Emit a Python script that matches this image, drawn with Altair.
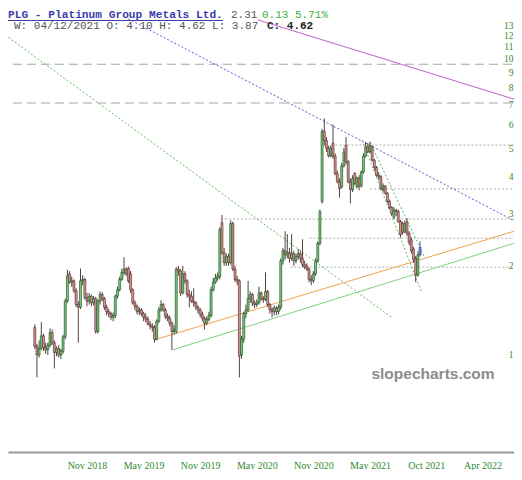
import altair as alt
import pandas as pd

# ---------------- weekly candles (PLG) ----------------
first_week = "2018-05-21"
opens = [1.24, 1.07, 1.00, 1.05, 1.16, 1.06, 1.04, 1.08, 1.19, 1.10,
         1.02, 1.05, 1.00, 1.03, 1.15, 1.52, 1.88, 1.76, 1.78, 1.65,
         1.48, 1.45, 1.78, 1.80, 1.56, 1.52, 1.58, 1.50, 1.55, 1.20,
         1.52, 1.60, 1.55, 1.45, 1.40, 1.38, 1.34, 1.36, 1.58, 1.66,
         1.80, 1.90, 1.95, 1.96, 1.88, 1.66, 1.50, 1.46, 1.40, 1.42,
         1.38, 1.34, 1.32, 1.27, 1.25, 1.24, 1.13, 1.30, 1.42, 1.48,
         1.42, 1.35, 1.33, 1.28, 1.20, 1.20, 1.95, 1.92, 1.62, 1.88,
         1.78, 1.60, 1.58, 1.52, 1.50, 1.45, 1.42, 1.37, 1.33, 1.28,
         1.32, 1.36, 1.66, 1.76, 1.82, 1.84, 2.80, 2.22, 2.05, 2.15,
         2.05, 2.78, 1.95, 1.80, 1.78, 1.00, 1.13, 1.38, 1.42, 1.55,
         1.60, 1.50, 1.48, 1.50, 1.62, 1.55, 1.54, 1.64, 1.48, 1.42,
         1.40, 1.44, 1.40, 1.45, 2.08, 2.25, 2.18, 2.22, 2.12, 2.20,
         2.08, 2.15, 2.20, 2.12, 2.02, 2.00, 1.95, 1.80, 1.78, 1.88,
         2.08, 2.38, 3.30, 5.70, 5.30, 5.00, 4.70, 5.20, 4.70, 4.10,
         3.85, 3.70, 4.35, 5.10, 4.50, 3.85, 3.62, 4.10, 3.70, 3.95,
         3.72, 4.15, 4.70, 5.05, 4.85, 5.05, 4.55, 4.30, 4.05, 4.00,
         3.62, 3.72, 3.52, 3.30, 3.15, 2.92, 3.08, 3.05, 2.82, 2.78,
         2.60, 2.82, 2.58, 2.45, 2.28, 2.12, 1.86, 2.18]
highs = [1.27, 1.09, 1.12, 1.29, 1.18, 1.10, 1.10, 1.23, 1.22, 1.12,
         1.07, 1.08, 1.05, 1.17, 1.55, 1.94, 1.92, 1.84, 1.80, 1.68,
         1.52, 1.96, 1.86, 1.82, 1.62, 1.62, 1.60, 1.58, 1.57, 1.54,
         1.64, 1.63, 1.57, 1.48, 1.43, 1.40, 1.39, 1.60, 1.70, 1.84,
         1.96, 2.14, 1.98, 1.99, 1.92, 1.68, 1.53, 1.48, 1.45, 1.44,
         1.40, 1.38, 1.35, 1.30, 1.28, 1.26, 1.32, 1.45, 1.53, 1.50,
         1.44, 1.38, 1.36, 1.30, 1.26, 1.98, 2.00, 1.95, 2.00, 1.92,
         1.80, 1.66, 1.64, 1.68, 1.52, 1.47, 1.44, 1.40, 1.35, 1.35,
         1.40, 1.70, 1.82, 1.88, 1.90, 2.70, 2.97, 2.30, 2.20, 2.20,
         2.85, 2.82, 2.00, 1.85, 1.80, 1.16, 1.40, 1.48, 1.78, 1.64,
         1.62, 1.53, 1.54, 1.70, 1.64, 1.58, 1.90, 1.66, 1.50, 1.45,
         1.47, 1.46, 1.48, 2.12, 2.30, 2.62, 2.56, 2.30, 2.56, 2.25,
         2.20, 2.28, 2.25, 2.46, 2.08, 2.04, 1.98, 1.86, 1.92, 2.12,
         2.42, 3.10, 5.80, 6.30, 5.45, 5.10, 5.10, 6.00, 4.80, 4.20,
         3.95, 4.45, 5.00, 5.45, 4.55, 3.95, 4.05, 4.15, 4.00, 4.05,
         4.20, 4.80, 5.25, 5.20, 5.25, 5.10, 4.60, 4.35, 4.15, 4.05,
         3.80, 3.75, 3.55, 3.35, 3.18, 3.16, 3.12, 3.10, 2.86, 2.82,
         2.85, 2.90, 2.62, 2.50, 2.32, 2.16, 2.24, 2.42]
lows = [1.05, 0.84, 0.98, 1.04, 1.03, 1.01, 1.00, 1.06, 1.08, 0.90,
        0.99, 0.98, 0.97, 1.01, 1.13, 1.50, 1.74, 1.70, 1.62, 1.45,
        1.10, 1.43, 1.72, 1.54, 1.46, 1.48, 1.46, 1.47, 1.18, 1.18,
        1.48, 1.52, 1.42, 1.36, 1.34, 1.31, 1.30, 1.33, 1.55, 1.64,
        1.78, 1.86, 1.85, 1.75, 1.62, 1.48, 1.42, 1.37, 1.36, 1.35,
        1.30, 1.29, 1.26, 1.22, 1.20, 1.10, 1.12, 1.28, 1.40, 1.40,
        1.32, 1.30, 1.25, 1.04, 1.17, 1.18, 1.85, 1.58, 1.60, 1.74,
        1.56, 1.45, 1.50, 1.46, 1.42, 1.38, 1.34, 1.30, 1.22, 1.26,
        1.30, 1.34, 1.64, 1.74, 1.78, 1.80, 2.18, 2.00, 2.00, 2.00,
        2.02, 1.92, 1.76, 1.72, 0.84, 0.97, 1.10, 1.33, 1.40, 1.50,
        1.46, 1.44, 1.45, 1.48, 1.52, 1.50, 1.52, 1.45, 1.38, 1.34,
        1.36, 1.36, 1.37, 1.42, 2.02, 2.10, 2.12, 2.05, 2.08, 2.00,
        2.04, 2.10, 2.05, 1.98, 1.95, 1.92, 1.76, 1.72, 1.75, 1.85,
        2.05, 2.35, 3.25, 5.10, 4.85, 4.65, 4.65, 4.60, 4.05, 3.80,
        3.40, 3.65, 4.30, 4.40, 3.80, 3.25, 3.55, 3.75, 3.65, 3.60,
        3.68, 4.10, 4.65, 4.80, 4.80, 4.50, 4.20, 4.00, 3.90, 3.60,
        3.55, 3.48, 3.25, 3.10, 2.95, 2.88, 2.95, 2.80, 2.50, 2.55,
        2.58, 2.52, 2.35, 2.20, 2.05, 1.76, 1.84, 2.15]
closes = [1.07, 1.00, 1.05, 1.16, 1.06, 1.04, 1.08, 1.19, 1.10, 1.02,
          1.05, 1.00, 1.03, 1.15, 1.52, 1.85, 1.76, 1.78, 1.65, 1.48,
          1.45, 1.78, 1.80, 1.56, 1.52, 1.58, 1.50, 1.55, 1.20, 1.52,
          1.60, 1.55, 1.45, 1.40, 1.38, 1.34, 1.36, 1.58, 1.66, 1.80,
          1.90, 1.95, 1.88, 1.78, 1.66, 1.50, 1.46, 1.40, 1.42, 1.38,
          1.34, 1.32, 1.27, 1.25, 1.24, 1.13, 1.30, 1.42, 1.48, 1.42,
          1.35, 1.33, 1.28, 1.20, 1.22, 1.95, 1.92, 1.62, 1.88, 1.78,
          1.60, 1.58, 1.52, 1.50, 1.45, 1.42, 1.37, 1.33, 1.28, 1.32,
          1.36, 1.66, 1.76, 1.82, 1.85, 2.66, 2.22, 2.05, 2.15, 2.05,
          2.78, 1.95, 1.80, 1.78, 0.99, 1.13, 1.38, 1.42, 1.55, 1.60,
          1.50, 1.48, 1.50, 1.62, 1.55, 1.54, 1.64, 1.48, 1.42, 1.40,
          1.44, 1.40, 1.45, 2.08, 2.25, 2.18, 2.22, 2.12, 2.20, 2.08,
          2.15, 2.20, 2.12, 2.02, 1.98, 1.95, 1.80, 1.78, 1.88, 2.08,
          2.38, 3.05, 5.70, 5.30, 5.00, 4.70, 5.00, 4.70, 4.10, 3.85,
          3.65, 4.35, 4.85, 4.50, 3.85, 3.62, 3.95, 3.80, 3.98, 3.72,
          4.15, 4.70, 5.05, 4.85, 5.10, 4.55, 4.30, 4.05, 4.00, 3.65,
          3.72, 3.52, 3.30, 3.15, 3.00, 3.08, 3.05, 2.82, 2.55, 2.60,
          2.78, 2.58, 2.40, 2.25, 2.10, 1.86, 2.18, 2.31]

# ---------------- drawn trendlines ----------------
trend_ids = ["purple", "blue", "green_long", "green_steep1", "green_steep2", "orange", "green_solid"]
trend_start_date = ["2020-05-08", "2019-03-06", "2018-02-15", "2021-04-07", "2021-05-03", "2019-06-09", "2019-08-07"]
trend_start_price = [13.55, 13.87, 12.05, 5.32, 5.24, 1.124, 1.04]
trend_end_date = ["2022-08-18", "2022-08-18", "2021-07-14", "2021-10-16", "2021-10-26", "2022-08-18", "2022-08-18"]
trend_end_price = [7.27, 2.81, 1.334, 1.63, 2.13, 2.634, 2.40]
trend_colors = {"purple": "#c060d0", "blue": "#5a5ad8", "green_long": "#5cbf5c", "green_steep1": "#5cbf5c",
                "green_steep2": "#5cbf5c", "orange": "#f2a050", "green_solid": "#80d080"}
trend_dashed = {"purple": False, "blue": True, "green_long": True, "green_steep1": True,
                "green_steep2": True, "orange": False, "green_solid": False}

# ---------------- horizontal levels ----------------
level_prices = [9.6, 7.10, 5.12, 3.64, 2.88, 2.48, 1.98]
level_start = ["2018-03-12", "2018-03-12", "2020-12-30", "2021-05-03", "2020-01-09", "2020-10-20", "2020-08-20"]
level_style = ["dash", "dash", "dot", "dot", "dot", "dot", "dot"]
level_end = "2022-09-01"

# ---------------- axes ----------------
y_ticks = [1, 2, 3, 4, 5, 6, 7, 8, 9, 10, 11, 12, 13]
x_tick_dates = [(2018, 11, 5), (2019, 5, 6), (2019, 11, 4), (2020, 5, 4),
                (2020, 11, 2), (2021, 5, 3), (2021, 10, 31), (2022, 4, 30)]

# ---------------- build tables ----------------
dates = pd.date_range(first_week, periods=len(closes), freq="7D")
kind = ["up" if c >= o else "down" for o, c in zip(opens, closes)]
kind[-1] = "last"
candles = pd.DataFrame({"date": dates, "open": opens, "high": highs, "low": lows,
                        "close": closes, "kind": kind})

rows = []
for i, t in enumerate(trend_ids):
    rows.append({"id": t, "date": pd.Timestamp(trend_start_date[i]), "price": trend_start_price[i]})
    rows.append({"id": t, "date": pd.Timestamp(trend_end_date[i]), "price": trend_end_price[i]})
trends = pd.DataFrame(rows)

levels = pd.DataFrame({"price": level_prices,
                       "start": pd.to_datetime(level_start),
                       "end": pd.to_datetime([level_end] * len(level_prices)),
                       "style": level_style})

x_scale = alt.Scale(domain=[alt.DateTime(year=2018, month=3, date=12),
                            alt.DateTime(year=2022, month=7, date=24)], nice=False)
y_scale = alt.Scale(type="log", domain=[0.47, 14.87], nice=False)

x_axis = alt.Axis(values=[alt.DateTime(year=a, month=b, date=c) for a, b, c in x_tick_dates],
                  format="%b %Y", labelColor="#2e8b2e", labelFont="Liberation Serif",
                  labelFontSize=10, domainColor="#9a9a9a", domainWidth=2, ticks=False,
                  grid=False, labelPadding=8, title=None, labelFlush=False)
y_axis = alt.Axis(values=y_ticks, format="d", orient="right", labelColor="#2e8b2e",
                  labelFont="Liberation Serif", labelFontSize=9.5, domain=False, ticks=False,
                  grid=False, offset=-1, labelPadding=0, labelAlign="right", title=None)


def X(field):
    return alt.X(field, type="temporal", scale=x_scale, axis=x_axis)


def Y(field):
    return alt.Y(field, type="quantitative", scale=y_scale, axis=y_axis)


base_levels = alt.Chart(levels)
dash_levels = base_levels.transform_filter(alt.datum.style == "dash").mark_rule(
    color="#a8a8a8", strokeDash=[9, 5], strokeWidth=1.2, clip=True
).encode(x=X("start"), x2="end:T", y=Y("price"))
dot_levels = base_levels.transform_filter(alt.datum.style == "dot").mark_rule(
    color="#ababab", strokeDash=[2, 2], strokeWidth=1, clip=True
).encode(x=X("start"), x2="end:T", y=Y("price"))

trend_layers = []
for t in trend_ids:
    props = dict(color=trend_colors[t], strokeWidth=1, clip=True)
    if trend_dashed[t]:
        props["strokeDash"] = [2, 2]
    trend_layers.append(
        alt.Chart(trends).transform_filter(alt.datum.id == t).mark_line(**props)
        .encode(x=X("date"), y=Y("price"))
    )

kind_dom = ["up", "down", "last"]
wicks = alt.Chart(candles).mark_rule(strokeWidth=1, clip=True).encode(
    x=X("date"), y=Y("low"), y2="high:Q",
    color=alt.Color("kind:N", scale=alt.Scale(domain=kind_dom, range=["#3a4a3a", "#5a4040", "#3a4a9a"]),
                    legend=None)
)
bodies = alt.Chart(candles).mark_bar(size=2, strokeWidth=0.6, clip=True).encode(
    x=X("date"), y=Y("open"), y2="close:Q",
    fill=alt.Fill("kind:N", scale=alt.Scale(domain=kind_dom, range=["#78c878", "#c99898", "#7090e0"]),
                  legend=None),
    stroke=alt.Stroke("kind:N", scale=alt.Scale(domain=kind_dom, range=["#1e4a1e", "#5a2222", "#223380"]),
                      legend=None),
)

one = pd.DataFrame({"t": [""]})


def label(text, x, y, color, bold=False, font="Liberation Mono", size=11, align="left"):
    return alt.Chart(one).mark_text(
        text=text, font=font, fontSize=size, fontWeight="bold" if bold else "normal",
        color=color, align=align, baseline="alphabetic"
    ).encode(x=alt.value(x), y=alt.value(y))


header = [
    label("PLG - Platinum Group Metals Ltd.", 0, 10, "#3b3bb0", bold=True, size=11.2),
    label("2.31", 223, 10, "#555555"),
    label("0.13 5.71%", 254, 10, "#3cae3c"),
    label("W: 04/12/2021 O: 4.10 H: 4.62 L: 3.87", 6, 21, "#555555"),
    label("C: 4.62", 259, 21, "#222222", bold=True),
    label("slopecharts.com", 425, 371, "#8c8c8c", font="Liberation Sans", size=15.5, bold=True, align="center"),
]
underline = alt.Chart(one).mark_rule(color="#3b3bb0", strokeWidth=1).encode(
    x=alt.value(0), x2=alt.value(215), y=alt.value(12.5))

chart = alt.layer(
    dash_levels, dot_levels, *trend_layers, wicks, bodies, underline, *header
).properties(
    width=506, height=444,
    autosize=alt.AutoSizeParams(type="none"),
    padding={"left": 0, "top": 0, "right": 0, "bottom": 18},
    background="white",
).configure_view(stroke=None)

chart.save("out.html", embed_options={"renderer": "svg", "actions": False})
